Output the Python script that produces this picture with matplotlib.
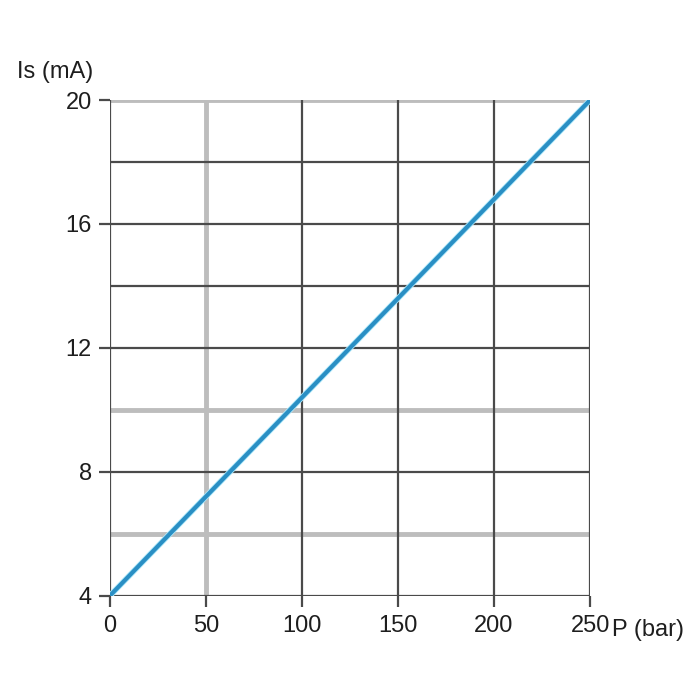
import matplotlib.pyplot as plt
import matplotlib.patheffects as pe

plt.rcParams['font.family'] = ['Liberation Sans', 'DejaVu Sans']

# =========================================================
# DATA
# =========================================================
pressure_bar = [0, 250]
current_ma = [4, 20]

x_ticks = [0, 50, 100, 150, 200, 250]
y_ticks = [4, 8, 12, 16, 20]

# grid lines: dark ones and light thick ones
x_grid_dark = [0, 100, 150, 200, 250]
x_grid_light = [50]
y_grid_dark = [4, 8, 12, 14, 16, 18]
y_grid_light = [6, 10, 20]

DARK = "#4a4a4a"
LIGHT = "#bdbdbd"
BLUE = "#2a8fc4"
TXT = "#1e1e1e"
FS = 17

# =========================================================
# PLOT
# =========================================================
fig = plt.figure(figsize=(7, 7), dpi=100)
ax = fig.add_axes([0.157, 0.149, 0.686, 0.708])

for y in y_grid_light:
    ax.axhline(y, color=LIGHT, lw=3.5, zorder=1)
for x in x_grid_light:
    ax.axvline(x, color=LIGHT, lw=3.5, zorder=1)
for y in y_grid_dark:
    ax.axhline(y, color=DARK, lw=1.6, zorder=2)
for x in x_grid_dark:
    ax.axvline(x, color=DARK, lw=1.6, zorder=2)

ax.plot(pressure_bar, current_ma, color=BLUE, lw=3.0, solid_capstyle="butt", zorder=3,
        path_effects=[pe.Stroke(linewidth=4.2, foreground="#aee9fb"), pe.Normal()])

ax.set_xlim(0, 250)
ax.set_ylim(4, 20)
ax.set_xticks(x_ticks)
ax.set_yticks(y_ticks)
ax.tick_params(axis="both", direction="out", length=8, width=1.6, color=DARK,
               labelsize=FS, labelcolor=TXT)
ax.tick_params(axis="x", pad=6)
ax.tick_params(axis="y", pad=5)

for s in ax.spines.values():
    s.set_visible(False)

ax.annotate("P (bar)", xy=(250, 4), xycoords="data", xytext=(16, -24.5),
            textcoords="offset points", ha="left", va="center", fontsize=FS, color=TXT)
fig.text(0.133, 0.897, "Is (mA)", ha="right", va="center", fontsize=FS, color=TXT)

plt.savefig("out.png", dpi=100)
plt.close()
